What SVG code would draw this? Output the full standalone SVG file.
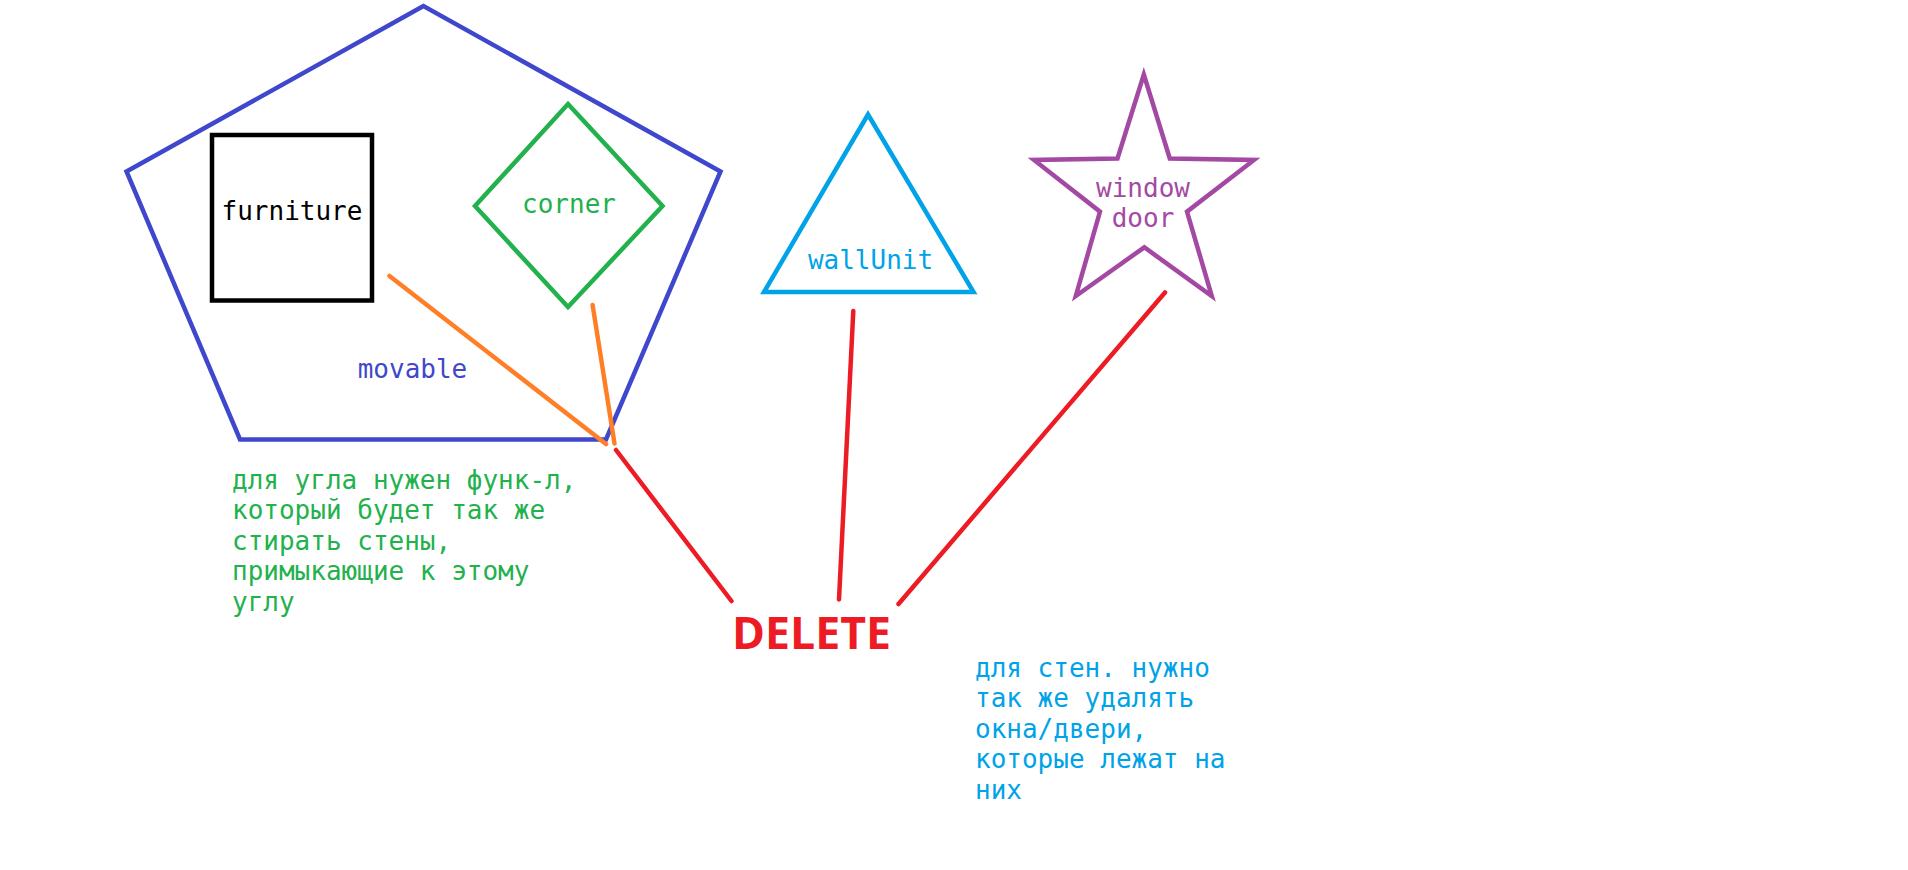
<svg xmlns="http://www.w3.org/2000/svg" width="1908" height="870" viewBox="0 0 1908 870">
<style>
.mono{font-family:"DejaVu Sans Mono","Liberation Mono",monospace;font-size:26px}
.shape{fill:none;stroke-width:4.5;stroke-linejoin:miter}
.conn{fill:none;stroke-width:4.5;stroke-linecap:round}
</style>
<rect width="1908" height="870" fill="#ffffff"/>
<g id="movable">
<polygon class="shape" stroke="#3f48cc" points="423.5,6 126.5,171.5 240,439.5 606,439.5 720.5,171.5"/>
<text class="mono" x="412.5" y="378" text-anchor="middle" fill="#3f48cc">movable</text>
</g>
<g id="furniture">
<rect class="shape" stroke="#000000" stroke-width="5" x="212" y="135" width="160" height="165.5"/>
<text class="mono" x="292" y="220" text-anchor="middle" fill="#000000">furniture</text>
</g>
<g id="corner">
<polygon class="shape" stroke="#22b14c" points="568,104 662.5,206 568,307 475,206"/>
<text class="mono" x="569" y="213" text-anchor="middle" fill="#22b14c">corner</text>
</g>
<g id="wallUnit">
<polygon class="shape" stroke="#00a2e8" points="868,114.5 973.5,292 764,292"/>
<text class="mono" x="870.5" y="268.5" text-anchor="middle" fill="#00a2e8">wallUnit</text>
</g>
<g id="windowDoor">
<polygon class="shape" stroke="#a349a4" points="1143.8,74.5 1169.8,158.5 1254,160 1187,211.7 1211.8,296 1144.3,247.3 1075.8,296 1100,211.7 1034,160 1117.5,158.5"/>
<text class="mono" x="1143" y="196.5" text-anchor="middle" fill="#a349a4">window</text>
<text class="mono" x="1143" y="227" text-anchor="middle" fill="#a349a4">door</text>
</g>
<g id="delete">
<text x="732" y="648.5" textLength="159" lengthAdjust="spacingAndGlyphs" font-family="'Open Sans','Noto Sans','Liberation Sans',sans-serif" font-weight="700" font-size="44" fill="#ed1c24">DELETE</text>
</g>
<g id="connectors">
<line class="conn" stroke="#ff7f27" x1="389.5" y1="276" x2="606" y2="444"/>
<line class="conn" stroke="#ff7f27" x1="592.6" y1="305" x2="614.5" y2="443.5"/>
<line class="conn" stroke="#ed1c24" x1="616" y1="450" x2="731.5" y2="601"/>
<line class="conn" stroke="#ed1c24" stroke-width="5" x1="853.3" y1="311" x2="839" y2="599.5"/>
<line class="conn" stroke="#ed1c24" x1="1165" y1="292.5" x2="898.5" y2="604"/>
</g>
<g id="note-corner" class="mono" fill="#22b14c">
<text x="232" y="489">для угла нужен функ-л,</text>
<text x="232" y="519.4">который будет так же</text>
<text x="232" y="549.8">стирать стены,</text>
<text x="232" y="580.2">примыкающие к этому</text>
<text x="232" y="610.6">углу</text>
</g>
<g id="note-wall" class="mono" fill="#00a2e8">
<text x="975" y="677">для стен. нужно</text>
<text x="975" y="707.4">так же удалять</text>
<text x="975" y="737.8">окна/двери,</text>
<text x="975" y="768.2">которые лежат на</text>
<text x="975" y="798.6">них</text>
</g>
</svg>
